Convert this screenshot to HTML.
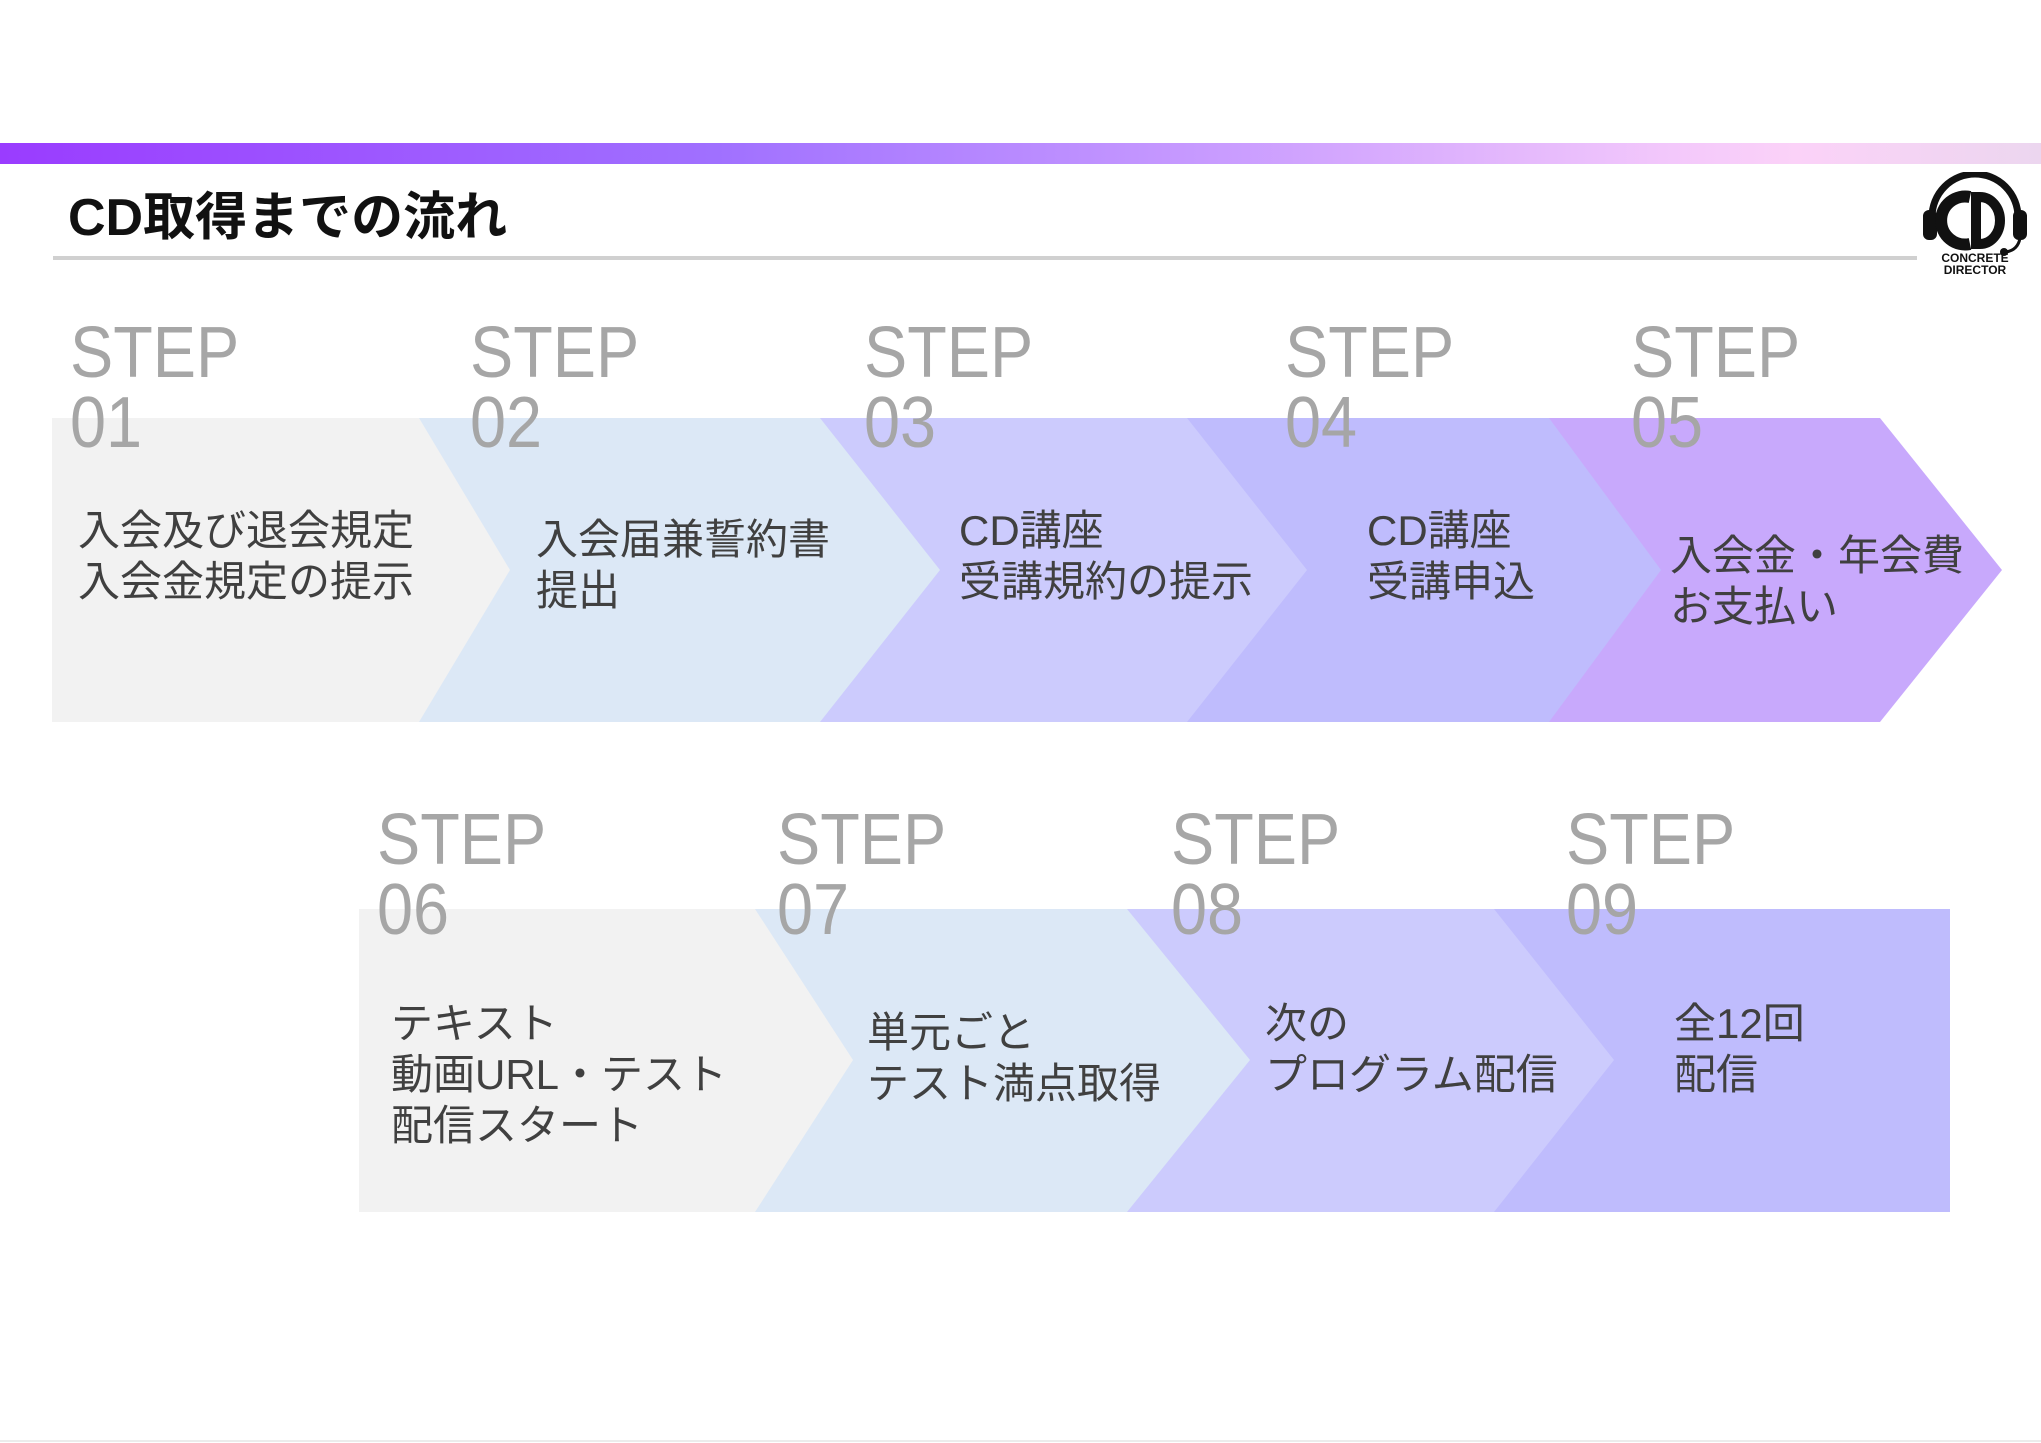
<!DOCTYPE html>
<html><head><meta charset="utf-8">
<style>
html,body{margin:0;padding:0;background:#fff;}
body{width:2041px;height:1443px;position:relative;overflow:hidden;font-family:"Liberation Sans","Noto Sans CJK JP",sans-serif;}
.bar{position:absolute;left:0;top:143px;width:2041px;height:21px;background:linear-gradient(90deg,#9a3cff 0%,#a070ff 35%,#c99cff 60%,#f3c8fb 82%,#fbd2f8 88%,#ecd6ef 100%);}
.title{position:absolute;left:68px;top:186px;font-size:52px;font-weight:bold;color:#111;letter-spacing:0px;line-height:64px;}
.hr{position:absolute;left:53px;top:256px;width:1864px;height:4px;background:#d0d0d0;}
.step{position:absolute;color:#a6a6a6;font-size:72px;line-height:70px;font-weight:normal;transform:scaleX(0.9);transform-origin:0 0;}
.t{position:absolute;color:#404040;font-size:42px;line-height:51px;white-space:nowrap;}
.foot{position:absolute;left:0;top:1440px;width:2041px;height:2px;background:#ececec;}
</style></head><body>
<div class="bar"></div>
<div class="title">CD取得までの流れ</div>
<div class="hr"></div>

<svg style="position:absolute;left:1920px;top:172px" width="110" height="110" viewBox="0 0 110 110">
  <path d="M12 45 A43 43 0 0 1 98 45" fill="none" stroke="#111" stroke-width="7"/>
  <rect x="3" y="38" width="14" height="30" rx="6" fill="#111"/>
  <rect x="93" y="38" width="14" height="30" rx="6" fill="#111"/>
  <path d="M50 25 A24 24 0 1 0 50 72" fill="none" stroke="#111" stroke-width="12"/>
  <path d="M56 25 L60 25 A20 23.5 0 0 1 60 72 L56 72 Z" fill="none" stroke="#111" stroke-width="10"/>
  <path d="M100 66 Q98 78 86 80" fill="none" stroke="#111" stroke-width="3"/>
  <circle cx="84" cy="80" r="4" fill="#111"/>
  <text x="55" y="90" text-anchor="middle" font-family="Liberation Sans" font-weight="bold" font-size="12" fill="#111">CONCRETE</text>
  <text x="55" y="102" text-anchor="middle" font-family="Liberation Sans" font-weight="bold" font-size="12" fill="#111">DIRECTOR</text>
</svg>

<svg style="position:absolute;left:0;top:0" width="2041" height="1443">
  <polygon points="1549,418 1880,418 2002,570 1880,722 1549,722" fill="#c8a9fc"/>
  <polygon points="1187,418 1549,418 1661,570 1549,722 1187,722" fill="#bfbcfd"/>
  <polygon points="820,418 1187,418 1307,570 1187,722 820,722" fill="#cccbfd"/>
  <polygon points="419,418 820,418 940,570 820,722 419,722" fill="#dce8f6"/>
  <polygon points="52,418 419,418 510,570 419,722 52,722" fill="#f2f2f2"/>

  <rect x="1494" y="909" width="456" height="303" fill="#bfbcfd"/>
  <polygon points="1127,909 1494,909 1614,1060 1494,1212 1127,1212" fill="#cccbfd"/>
  <polygon points="755,909 1127,909 1250,1060 1127,1212 755,1212" fill="#dce8f6"/>
  <polygon points="359,909 755,909 853,1060 755,1212 359,1212" fill="#f2f2f2"/>
</svg>

<div class="step" style="left:70px;top:318px">STEP<br>01</div>
<div class="step" style="left:470px;top:318px">STEP<br>02</div>
<div class="step" style="left:864px;top:318px">STEP<br>03</div>
<div class="step" style="left:1285px;top:318px">STEP<br>04</div>
<div class="step" style="left:1631px;top:318px">STEP<br>05</div>

<div class="step" style="left:377px;top:805px">STEP<br>06</div>
<div class="step" style="left:777px;top:805px">STEP<br>07</div>
<div class="step" style="left:1171px;top:805px">STEP<br>08</div>
<div class="step" style="left:1566px;top:805px">STEP<br>09</div>

<div class="t" style="left:78px;top:505px">入会及び退会規定<br>入会金規定の提示</div>
<div class="t" style="left:536px;top:514px">入会届兼誓約書<br>提出</div>
<div class="t" style="left:959px;top:505px">CD講座<br>受講規約の提示</div>
<div class="t" style="left:1367px;top:505px">CD講座<br>受講申込</div>
<div class="t" style="left:1670px;top:530px">入会金・年会費<br>お支払い</div>

<div class="t" style="left:391px;top:998px">テキスト<br>動画URL・テスト<br>配信スタート</div>
<div class="t" style="left:867px;top:1007px">単元ごと<br>テスト満点取得</div>
<div class="t" style="left:1265px;top:998px">次の<br>プログラム配信</div>
<div class="t" style="left:1674px;top:998px">全12回<br>配信</div>

<div class="foot"></div>
</body></html>
